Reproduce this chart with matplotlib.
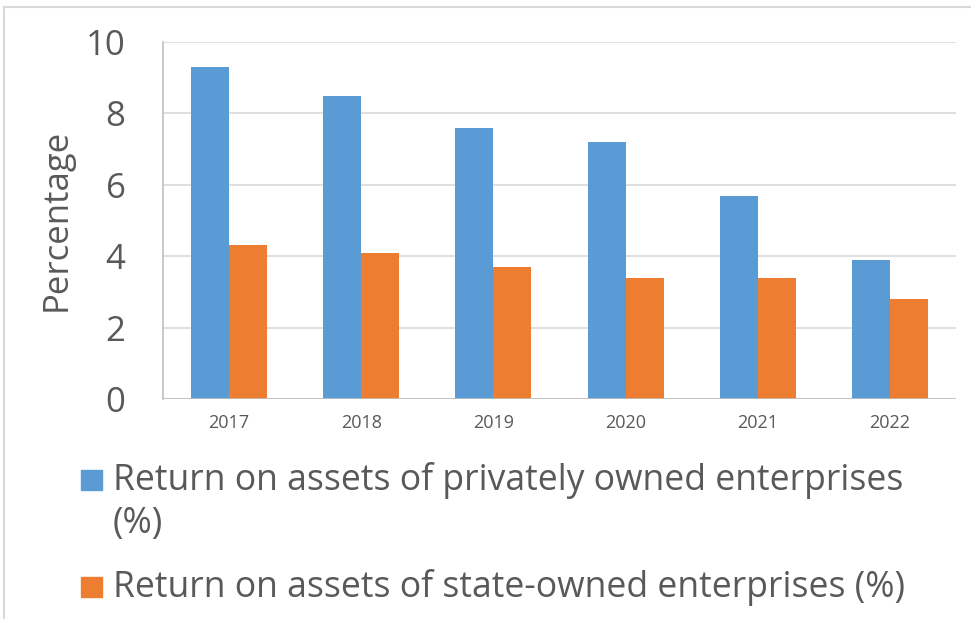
import matplotlib.pyplot as plt
import numpy as np
from matplotlib.patches import Rectangle
from matplotlib.lines import Line2D

years = ['2017', '2018', '2019', '2020', '2021', '2022']
private_roa = [9.3, 8.5, 7.6, 7.2, 5.7, 3.9]
state_roa = [4.3, 4.1, 3.7, 3.4, 3.4, 2.8]
series_labels = ['Return on assets of privately owned enterprises\n(%)',
                 'Return on assets of state-owned enterprises (%)']

blue = '#5B9BD5'
orange = '#ED7D31'
text_gray = '#595959'
grid_gray = '#D9D9D9'

plt.rcParams['font.family'] = ['Open Sans', 'DejaVu Sans']

W, H = 971, 619
fig = plt.figure(figsize=(W / 100, H / 100), dpi=100)
ax = fig.add_axes([163 / W, 1 - 399 / H, (956 - 163) / W, (399 - 42) / H])

x = np.arange(len(years))
bw = 0.287
ax.bar(x - bw / 2, private_roa, bw, color=blue, zorder=2)
ax.bar(x + bw / 2, state_roa, bw, color=orange, zorder=2)

ax.set_xlim(-0.5, len(years) - 0.5)
ax.set_ylim(0, 10)
ax.set_yticks(range(0, 11, 2))
ax.set_xticks(x)
ax.set_xticklabels(years)
ax.yaxis.grid(True, color=grid_gray, linewidth=1.2, zorder=0)
ax.set_axisbelow(True)

for side in ['top', 'right', 'bottom']:
    ax.spines[side].set_visible(False)
ax.spines['left'].set_color('#BFBFBF')
ax.spines['left'].set_linewidth(1.2)
ax.axhline(0, color='#BFBFBF', linewidth=1.2, zorder=3)

ax.tick_params(axis='y', length=0, labelsize=25, labelcolor=text_gray, pad=27)
ax.tick_params(axis='x', length=0, labelsize=13, labelcolor=text_gray, pad=11)
fig.text(57 / W, 1 - 220 / H, 'Percentage', fontsize=25, color=text_gray,
         rotation=90, ha='center', va='center')

# legend drawn below the plot, one text line per row
colors = [blue, orange]
first_baselines = [490, 597]
line_gap = 43
for label, c, base in zip(series_labels, colors, first_baselines):
    fig.patches.append(Rectangle((81 / W, 1 - base / H), 21 / W, 20 / H,
                                 transform=fig.transFigure, color=c))
    for i, line in enumerate(label.split('\n')):
        fig.text(113 / W, 1 - (base + i * line_gap) / H, line, fontsize=25.6,
                 color=text_gray, va='baseline', ha='left')

# outer frame lines
fig.add_artist(Line2D([4 / W, 1], [1 - 7 / H, 1 - 7 / H], transform=fig.transFigure,
                      color=grid_gray, linewidth=1.5))
fig.add_artist(Line2D([4 / W, 4 / W], [0, 1 - 7 / H], transform=fig.transFigure,
                      color=grid_gray, linewidth=1.5))

fig.savefig('out.png', dpi=100, facecolor='white')
